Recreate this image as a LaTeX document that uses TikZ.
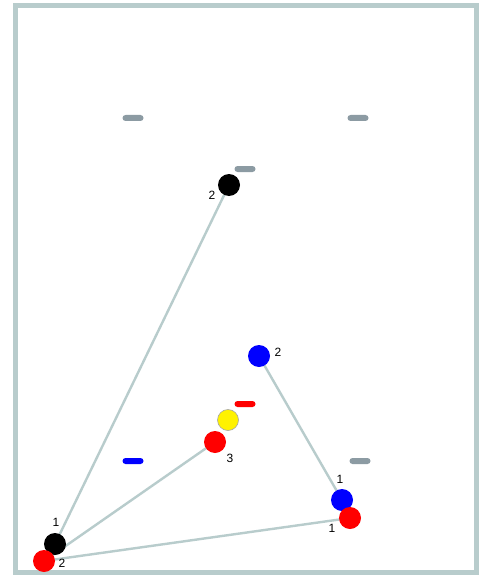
\documentclass[tikz,border=0pt]{standalone}
\usepackage{fontspec}
\setmainfont{Liberation Sans}
\definecolor{frame}{HTML}{B8CCCC}
\definecolor{dashgray}{HTML}{8C9BA3}
\begin{document}
\begin{tikzpicture}[x=1pt,y=-1pt,
  dot/.style={circle,minimum size=22pt,inner sep=0pt},
  bar/.style={rounded corners=3pt,minimum width=21pt,minimum height=6pt,inner sep=0pt},
  link/.style={draw=frame,line width=2.4pt},
  lbl/.style={font=\fontsize{12}{13}\selectfont,inner sep=0pt}]
\useasboundingbox (0,0) rectangle (480,575);
\fill[white] (0,0) rectangle (480,575);
\draw[frame,line width=5pt] (15,5.5) rectangle (476.5,572.5);
% bars
\node[bar,fill=dashgray] (g1) at (133,118) {};
\node[bar,fill=dashgray] (g2) at (358,118) {};
\node[bar,fill=dashgray] (g3) at (245,169) {};
\node[bar,fill=dashgray] (g4) at (360,461) {};
\node[bar,fill=red] (rb) at (245,404) {};
\node[bar,fill=blue] (bb) at (133,461) {};
% coordinates of dots
\coordinate (k2) at (229,185);
\coordinate (b2) at (259,356);
\coordinate (y) at (228,420);
\coordinate (r3) at (215,442);
\coordinate (b1) at (342,500);
\coordinate (r1) at (350,518);
\coordinate (k1) at (55,544);
\coordinate (r2) at (44,561);
% links
\draw[link] (k1) -- (k2);
\draw[link] (r2) -- (r3);
\draw[link] (r2) -- (r1);
\draw[link] (b2) -- (b1);
% dots
\node[dot,fill=black] (K2) at (k2) {};
\node[dot,fill=blue] (B2) at (b2) {};
\node[dot,fill=yellow,draw=gray!70,line width=0.6pt,minimum size=21pt] (Y) at (y) {};
\node[dot,fill=red] (R3) at (r3) {};
\node[dot,fill=blue] (B1) at (b1) {};
\node[dot,fill=red] (R1) at (r1) {};
\node[dot,fill=black] (K1) at (k1) {};
\node[dot,fill=red] (R2) at (r2) {};
% labels
\node[lbl] (lk2) at (212,195) {2};
\node[lbl] (lb2) at (278,352) {2};
\node[lbl] (lr3) at (230,458) {3};
\node[lbl] (lb1) at (340,479) {1};
\node[lbl] (lr1) at (332,528) {1};
\node[lbl] (lk1) at (56,522) {1};
\node[lbl] (lr2) at (62,563) {2};
\end{tikzpicture}
\end{document}
